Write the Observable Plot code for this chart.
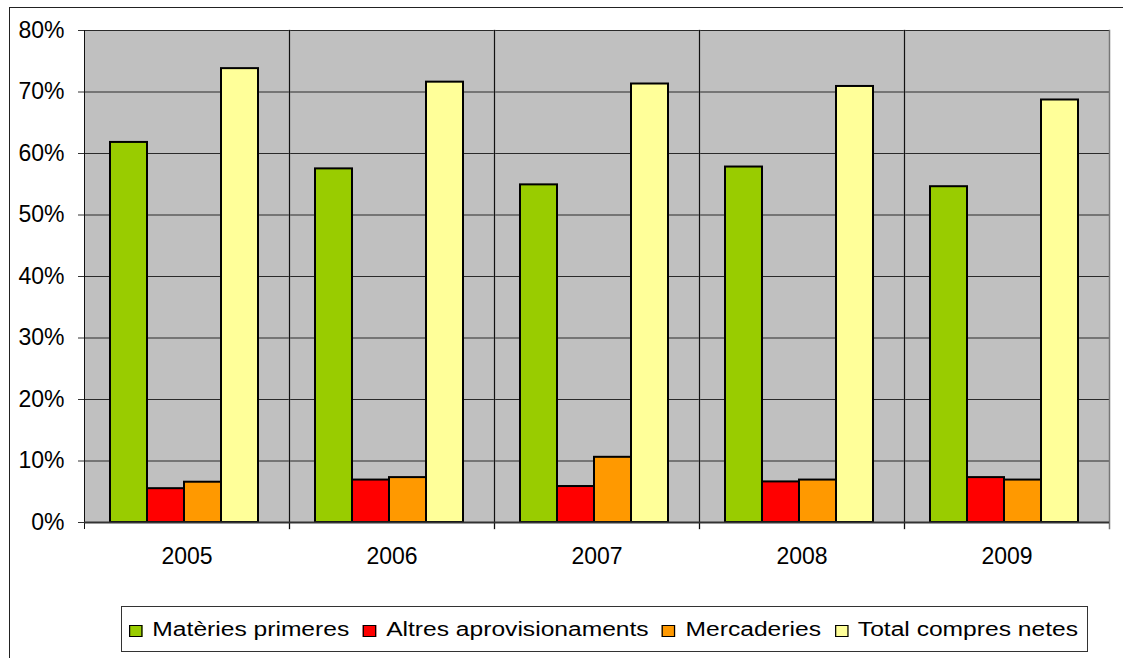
<!DOCTYPE html>
<html>
<head>
<meta charset="utf-8">
<script src="https://cdn.jsdelivr.net/npm/d3@7"></script>
<script src="https://cdn.jsdelivr.net/npm/@observablehq/plot@0.6"></script>
<style>
  html, body { margin: 0; padding: 0; background: #fff; }
  body { width: 1123px; height: 658px; position: relative; overflow: hidden; font-family: "Liberation Sans", Arial, sans-serif; }
  #border { position: absolute; left: 9px; top: 7px; width: 1200px; height: 700px; border-left: 1.5px solid #222; border-top: 1.5px solid #222; }
  #chart { position: absolute; left: 0; top: 0; }
  #legend { position: absolute; left: 121px; top: 606px; width: 967px; height: 46px; border: 1px solid #333; background: #fff; box-sizing: border-box; }
  #legend .inner { position: absolute; left: 7px; top: 10px; white-space: nowrap; font-size: 20px; color: #000; transform-origin: 0 50%; display: inline-block; line-height: 24px; }
  #legend .item { display: inline-block; margin-right: 11px; }
  #legend .sw { display: inline-block; width: 11px; height: 12px; border: 1.5px solid #000; box-sizing: border-box; margin-right: 8px; vertical-align: -1px; }
</style>
</head>
<body>
<div id="border"></div>
<div id="chart"></div>
<div id="legend"><div class="inner" id="legendInner"></div></div>
<script>
const years = ["2005", "2006", "2007", "2008", "2009"];
const series = ["Matèries primeres", "Altres aprovisionaments", "Mercaderies", "Total compres netes"];
const colors = ["#99CC00", "#FF0000", "#FF9900", "#FFFF99"];
const materiesPrimeres = [61.8, 57.5, 54.9, 57.8, 54.6];
const altresAprovisionaments = [5.5, 6.9, 5.85, 6.6, 7.3];
const mercaderies = [6.55, 7.3, 10.6, 6.9, 6.9];
const totalCompresNetes = [73.8, 71.6, 71.3, 70.9, 68.7];
const yTicks = [0, 10, 20, 30, 40, 50, 60, 70, 80];

const seriesValues = [materiesPrimeres, altresAprovisionaments, mercaderies, totalCompresNetes];
const data = [];
years.forEach((yr, i) => {
  series.forEach((s, j) => data.push({year: yr, series: s, value: seriesValues[j][i]}));
});

const plot = Plot.plot({
  width: 1123,
  height: 590,
  marginLeft: 82,
  marginRight: 13,
  marginTop: 30,
  marginBottom: 68,
  style: {fontFamily: "'Liberation Sans', Arial, sans-serif", background: "transparent", color: "#000"},
  fx: {domain: years, padding: 0, label: null},
  x: {domain: series, paddingInner: 0, paddingOuter: 0.77, align: 0.45, axis: null},
  y: {domain: [0, 80], label: null},
  color: {domain: series, range: colors},
  marks: [
    Plot.frame({fill: "#C0C0C0"}),
    Plot.gridY(yTicks, {stroke: "#2a2a2a", strokeOpacity: 1, strokeWidth: 1}),
    Plot.frame({anchor: "right", stroke: "#777", strokeWidth: 1.5, insetBottom: -6}),
    Plot.frame({anchor: "left", stroke: "#111", strokeWidth: 1, insetBottom: -6}),
    Plot.barY(data, {fx: "year", x: "series", y: "value", fill: "series", stroke: "#000", strokeWidth: 2}),
    Plot.ruleY([0], {stroke: "#333", strokeWidth: 2}),
    Plot.axisY(yTicks, {anchor: "left", tickSize: 6, tickPadding: 14, fontSize: 23, tickFormat: d => d + "%", stroke: "#333", label: null}),
    Plot.axisFx({anchor: "bottom", tickSize: 0, tickPadding: 25, fontSize: 23, label: null})
  ]
});
document.getElementById("chart").appendChild(plot);

// legend
const inner = document.getElementById("legendInner");
series.forEach((s, j) => {
  const item = document.createElement("span");
  item.className = "item";
  if (j === series.length - 1) item.style.marginRight = "0";
  const sw = document.createElement("span");
  sw.className = "sw";
  sw.style.background = colors[j];
  const t = document.createElement("span");
  t.textContent = s;
  item.appendChild(sw);
  item.appendChild(t);
  inner.appendChild(item);
});
const w = inner.getBoundingClientRect().width;
inner.style.transform = `scaleX(${(1078 - 129) / w})`;
</script>
</body>
</html>
